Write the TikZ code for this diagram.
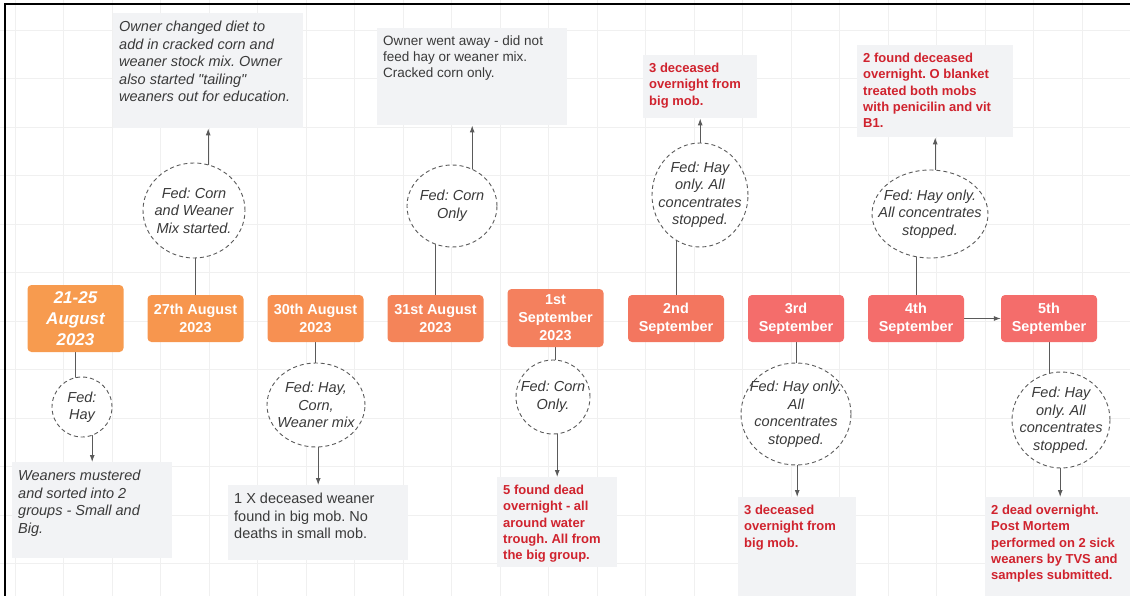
\documentclass[tikz,border=0pt]{standalone}
\usepackage{fontspec}
\setmainfont{Liberation Sans}
\usepackage{tikz}
\usetikzlibrary{shapes,arrows.meta,backgrounds}
\definecolor{dayA}{HTML}{F79B4F}
\definecolor{dayB}{HTML}{F7964E}
\definecolor{dayC}{HTML}{F79052}
\definecolor{dayD}{HTML}{F48459}
\definecolor{dayE}{HTML}{F4805E}
\definecolor{dayF}{HTML}{F3765F}
\definecolor{dayG}{HTML}{F46D6B}
\definecolor{lineg}{HTML}{5A5A5A}
\definecolor{noteg}{HTML}{F2F3F5}
\definecolor{gridc}{HTML}{F0F0F0}
\definecolor{deadred}{HTML}{D0232E}
\definecolor{txtg}{HTML}{3A3A3A}
\newcommand{\notebox}[3]{\parbox[c][#2][t]{#1}{\raggedright #3}}
\frenchspacing

\begin{document}
\begin{tikzpicture}[x=1pt,y=-1pt,>={Latex[length=7pt,width=5pt]},
  day/.style={fill=#1,rounded corners=4pt,minimum width=96pt,minimum height=47pt,inner sep=0pt,
    text=white,align=center,font=\fontsize{14.4}{18}\selectfont\bfseries},
  feed/.style={ellipse,draw=lineg,dash pattern=on 4pt off 3pt,line width=0.9pt,fill=white,inner sep=0pt},
  feedtxt/.style={text=txtg,align=center,font=\fontsize{14.5}{17.5}\selectfont\itshape},
  note/.style={fill=noteg,anchor=north west,inner xsep=6pt,inner ysep=8pt,text=txtg,
    font=\fontsize{14.5}{17.5}\selectfont},
  inote/.style={note,font=\fontsize{14.5}{17.5}\selectfont\itshape},
  dead/.style={note,text=deadred,font=\fontsize{13}{16.3}\selectfont\bfseries},
  link/.style={draw=lineg,line width=1pt}]
\useasboundingbox (0,0) rectangle (1130,596);

\node[day=dayA,minimum height=67pt,font=\fontsize{17}{21}\selectfont\bfseries\itshape] (d1) at (75.5,318.5) {21-25\\August\\2023};
\node[day=dayB] (d2) at (195.5,318.5) {27th August\\2023};
\node[day=dayC] (d3) at (315.5,318.5) {30th August\\2023};
\node[day=dayD] (d4) at (435.5,318.5) {31st August\\2023};
\node[day=dayE,minimum height=58pt] (d5) at (555.5,318) {1st\\September\\2023};
\node[day=dayF] (d6) at (676,318.5) {2nd\\September};
\node[day=dayG] (d7) at (796,318.5) {3rd\\September};
\node[day=dayG] (d8) at (916,318.5) {4th\\September};
\node[day=dayG] (d9) at (1049,318.5) {5th\\September};

\node[feed,minimum width=60pt,minimum height=60pt,label={[feedtxt]center:{Fed:\\Hay}}] (c1) at (82,407) {};
\node[feed,minimum width=102pt,minimum height=95pt,label={[feedtxt]center:{Fed: Corn\\and Weaner\\Mix started.}}] (c2) at (194,210.5) {};
\node[feed,minimum width=98pt,minimum height=84pt,label={[feedtxt]center:{Fed: Hay,\\Corn,\\Weaner mix}}] (c3) at (316,405) {};
\node[feed,minimum width=90pt,minimum height=82pt,label={[feedtxt]center:{Fed: Corn\\Only}}] (c4) at (452,206) {};
\node[feed,minimum width=74pt,minimum height=74pt,label={[feedtxt]center:{Fed: Corn\\Only.}}] (c5) at (553,397) {};
\node[feed,minimum width=96pt,minimum height=104pt,label={[feedtxt]center:{Fed: Hay\\only. All\\concentrates\\stopped.}}] (c6) at (700,195) {};
\node[feed,minimum width=110pt,minimum height=102pt,label={[feedtxt]center:{Fed: Hay only.\\All\\concentrates\\stopped.}}] (c7) at (796,414) {};
\node[feed,minimum width=116pt,minimum height=88pt,label={[feedtxt]center:{Fed: Hay only.\\All concentrates\\stopped.}}] (c8) at (930,214) {};
\node[feed,minimum width=98pt,minimum height=96pt,label={[feedtxt]center:{Fed: Hay\\only. All\\concentrates\\stopped.}}] (c9) at (1061,420) {};

\node[inote] (n1) at (12,462) {\notebox{148pt}{80pt}{Weaners mustered\\and sorted into 2\\groups - Small and\\Big.}};
\node[inote] (n2) at (113,13) {\notebox{178pt}{99pt}{Owner changed diet to\\add in cracked corn and\\weaner stock mix. Owner\\also started \textquotedbl tailing\textquotedbl\\weaners out for education.}};
\node[note] (n3) at (228,485) {\notebox{168pt}{59pt}{1 X deceased weaner\\found in big mob. No\\deaths in small mob.}};
\node[note,font=\fontsize{13.5}{16}\selectfont] (n4) at (377,28) {\notebox{178pt}{81pt}{Owner went away - did not\\feed hay or weaner mix.\\Cracked corn only.}};
\node[dead] (n5) at (497,477) {\notebox{108pt}{74pt}{5 found dead\\overnight - all\\around water\\trough. All from\\the big group.}};
\node[dead] (n6) at (643,55) {\notebox{102pt}{47pt}{3 deceased\\overnight from\\big mob.}};
\node[dead] (n7) at (738,497) {\notebox{106pt}{83pt}{3 deceased\\overnight from\\big mob.}};
\node[dead] (n8) at (857,45) {\notebox{144pt}{76pt}{2 found deceased\\overnight. O blanket\\treated both mobs\\with penicilin and vit\\B1.}};
\node[dead] (n9) at (985,497) {\notebox{138pt}{83pt}{2 dead overnight.\\Post Mortem\\performed on 2 sick\\weaners by TVS and\\samples submitted.}};

\begin{scope}[on background layer]
\foreach \i in {0,...,23}
  \draw[gridc,line width=0.6pt] (15+48.5*\i,0) -- (15+48.5*\i,596);
\foreach \i in {0,...,11}
  \draw[gridc,line width=0.6pt] (0,30+48.5*\i) -- (1130,30+48.5*\i);
\draw[link] (d1.south) -- (d1.south |- c1.center);
\draw[link] (d2.north) -- (d2.north |- c2.center);
\draw[link] (d3.south) -- (d3.south |- c3.center);
\draw[link] (d4.north) -- (d4.north |- c4.center);
\draw[link] (d5.south) -- (d5.south |- c5.center);
\draw[link] (d6.north) -- (d6.north |- c6.center);
\draw[link] (d7.south) -- (d7.south |- c7.center);
\draw[link] (d8.north) -- (d8.north |- c8.center);
\draw[link] (d9.south) -- (d9.south |- c9.center);
\draw[link,->] (n1.north |- c1.center) -- (n1.north);
\draw[link,->] (n2.south |- c2.center) -- (n2.south);
\draw[link,->] (n3.north |- c3.center) -- (n3.north);
\draw[link,->] (n4.south |- c4.center) -- (n4.south);
\draw[link,->] (n5.north |- c5.center) -- (n5.north);
\draw[link,->] (n6.south |- c6.center) -- (n6.south);
\draw[link,->] (n7.north |- c7.center) -- (n7.north);
\draw[link,->] (n8.south |- c8.center) -- (n8.south);
\draw[link,->] (n9.north |- c9.center) -- (n9.north);
\draw[link,->] (d8) -- (d9);
\end{scope}
\draw[line width=1.5pt] (1130,4) -- (5,4) -- (5,596);
\end{tikzpicture}
\end{document}
